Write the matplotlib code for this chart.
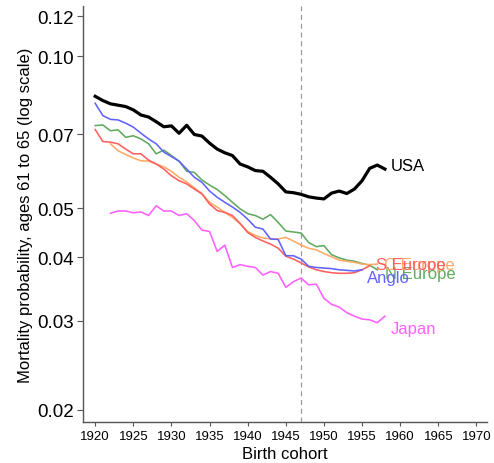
import matplotlib
matplotlib.use("Agg")
import matplotlib.pyplot as plt
from matplotlib.ticker import FixedLocator, NullLocator

plt.rcParams['font.family'] = ['Liberation Sans', 'DejaVu Sans']

# Mortality probability at ages 61-65 by birth cohort
years_usa = list(range(1920, 1959))
usa = [0.0833, 0.0817, 0.0805, 0.0800, 0.0795, 0.0783, 0.0765, 0.0758, 0.0742, 0.0725,
       0.0728, 0.0704, 0.0730, 0.0700, 0.0695, 0.0673, 0.0655, 0.0644, 0.0636, 0.0612,
       0.0604, 0.0594, 0.0592, 0.0576, 0.0559, 0.0539, 0.0537, 0.0533, 0.0527, 0.0524,
       0.0522, 0.0536, 0.0541, 0.0535, 0.0546, 0.0567, 0.0600, 0.0609, 0.0598]

years_anglo = list(range(1920, 1956))
anglo = [0.0807, 0.0763, 0.0750, 0.0748, 0.0737, 0.0724, 0.0704, 0.0686, 0.0671, 0.0646,
         0.0633, 0.0620, 0.0598, 0.0576, 0.0563, 0.0541, 0.0526, 0.0514, 0.0503, 0.0491,
         0.0476, 0.0459, 0.0455, 0.0435, 0.0434, 0.0403, 0.0403, 0.0397, 0.0384, 0.0382,
         0.0381, 0.0380, 0.0378, 0.0377, 0.0376, 0.0378]

years_neur = list(range(1920, 1958))
n_europe = [0.0729, 0.0731, 0.0712, 0.0715, 0.0691, 0.0696, 0.0686, 0.0671, 0.0641, 0.0652,
            0.0636, 0.0620, 0.0592, 0.0589, 0.0569, 0.0556, 0.0545, 0.0530, 0.0514, 0.0499,
            0.0488, 0.0484, 0.0476, 0.0486, 0.0469, 0.0451, 0.0449, 0.0447, 0.0428, 0.0420,
            0.0422, 0.0405, 0.0399, 0.0395, 0.0393, 0.0389, 0.0386, 0.0378]

years_seur = list(range(1920, 1957))
s_europe = [0.0716, 0.0678, 0.0676, 0.0671, 0.0655, 0.0641, 0.0641, 0.0623, 0.0612, 0.0598,
            0.0580, 0.0567, 0.0559, 0.0546, 0.0534, 0.0510, 0.0495, 0.0491, 0.0484, 0.0467,
            0.0448, 0.0438, 0.0431, 0.0425, 0.0417, 0.0402, 0.0397, 0.0390, 0.0383, 0.0378,
            0.0375, 0.0373, 0.0372, 0.0372, 0.0373, 0.0378, 0.0385]

years_ceur = list(range(1922, 1958))
c_europe = [0.0671, 0.0650, 0.0639, 0.0629, 0.0621, 0.0620, 0.0612, 0.0604, 0.0592, 0.0576,
            0.0564, 0.0549, 0.0535, 0.0514, 0.0503, 0.0491, 0.0480, 0.0466, 0.0450, 0.0442,
            0.0437, 0.0435, 0.0435, 0.0438, 0.0431, 0.0423, 0.0417, 0.0414, 0.0407, 0.0401,
            0.0395, 0.0393, 0.0391, 0.0388, 0.0387, 0.0388]

years_japan = list(range(1922, 1959))
japan = [0.0489, 0.0494, 0.0494, 0.0490, 0.0492, 0.0484, 0.0506, 0.0494, 0.0494, 0.0484,
         0.0488, 0.0473, 0.0453, 0.0450, 0.0411, 0.0423, 0.0382, 0.0387, 0.0384, 0.0382,
         0.0369, 0.0375, 0.0372, 0.0349, 0.0358, 0.0364, 0.0353, 0.0354, 0.0332, 0.0323,
         0.0319, 0.0311, 0.0306, 0.0302, 0.0301, 0.0297, 0.0306]

y_ticks = [0.02, 0.03, 0.04, 0.05, 0.07, 0.10, 0.12]
y_ticklabels = ["0.02", "0.03", "0.04", "0.05", "0.07", "0.10", "0.12"]
x_ticks = list(range(1920, 1971, 5))
reform_year = 1947

fig = plt.figure(figsize=(4.94, 4.64), dpi=100)
ax = fig.add_axes([0.168, 0.0884, 0.818, 0.8966])

ax.axvline(reform_year, color='#9a9a9a', lw=0.9, ls=(0, (4, 3)), zorder=1)

# (years, values, label, colour, line width, label offset in pixels)
series = [
    (years_japan, japan, "Japan", "#ff60ff", 1.15, (5.5, -12.5)),
    (years_neur, n_europe, "N Europe", "#5faa5f", 1.15, (8, -4)),
    (years_ceur, c_europe, "C Europe", "#ffaa66", 1.15, (7, 0)),
    (years_seur, s_europe, "S Europe", "#ff5f5f", 1.15, (6.5, 1)),
    (years_anglo, anglo, "Anglo", "#6262ff", 1.15, (4.5, -8)),
    (years_usa, usa, "USA", "#000000", 2.3, (5.5, 4)),
]

for xs, ys, name, col, lw, off in series:
    ax.plot(xs, ys, color=col, lw=lw, solid_joinstyle='round', zorder=3)
    ax.annotate(name, xy=(xs[-1], ys[-1]), xytext=off, textcoords='offset pixels',
                ha='left', va='center', color=col, fontsize=12, zorder=4)

ax.set_yscale('log')
ax.set_ylim(0.0189, 0.1257)
ax.set_xlim(1918.4, 1971.4)
ax.yaxis.set_major_locator(FixedLocator(y_ticks))
ax.yaxis.set_minor_locator(NullLocator())
ax.set_yticklabels(y_ticklabels)
ax.set_xticks(x_ticks)

for s in ('top', 'right'):
    ax.spines[s].set_visible(False)
for s in ('left', 'bottom'):
    ax.spines[s].set_color('#555555')
    ax.spines[s].set_linewidth(1.0)

ax.tick_params(axis='y', length=4.5, width=0.8, color='#555555', labelsize=13.5, pad=2)
ax.tick_params(axis='x', length=3, width=0.8, color='#555555', labelsize=9.5, pad=3)

ax.set_xlabel("Birth cohort", fontsize=12, labelpad=2.5)
ax.set_ylabel("Mortality probability, ages 61 to 65 (log scale)", fontsize=12, labelpad=3)

fig.savefig("out.png", dpi=100)
